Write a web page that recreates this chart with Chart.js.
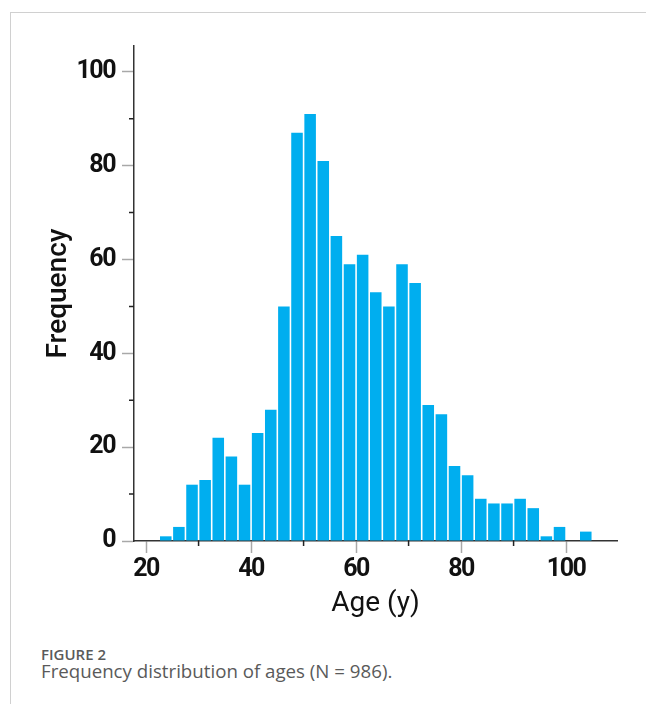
<!DOCTYPE html>
<html>
<head>
<meta charset="utf-8">
<script src="https://cdn.jsdelivr.net/npm/chart.js@4/dist/chart.umd.min.js"></script>
<style>
  html, body { margin: 0; padding: 0; background: #fff; }
  body { width: 646px; height: 704px; position: relative; overflow: hidden; }
  #frame {
    position: absolute; left: 10px; top: 12px; right: 0; bottom: 0;
    border-left: 1px solid #d0d0d0; border-top: 1px solid #d0d0d0;
  }
  #wrap { position: absolute; left: 0; top: 0; width: 646px; height: 630px; }
  .cap { position: absolute; left: 41px; font-family: "Open Sans", "Noto Sans", sans-serif; color: #5a5a5a; white-space: nowrap; }
  #figno { top: 644px; font-size: 15px; font-weight: 600; }
  #figtxt { top: 658px; font-size: 18.7px; font-weight: 400; }
</style>
</head>
<body>
<div id="frame"></div>
<div id="wrap"><canvas id="c" width="646" height="630"></canvas></div>
<div class="cap" id="figno">FIGURE 2</div>
<div class="cap" id="figtxt">Frequency distribution of ages (N = 986).</div>
<script>
// Age histogram, 2.5-year bins (lower edge of each bin)
const binStarts = [22.5, 25, 27.5, 30, 32.5, 35, 37.5, 40, 42.5, 45, 47.5, 50, 52.5, 55, 57.5,
  60, 62.5, 65, 67.5, 70, 72.5, 75, 77.5, 80, 82.5, 85, 87.5, 90, 92.5, 95, 97.5, 100, 102.5];
const frequencies = [1, 3, 12, 13, 22, 18, 12, 23, 28, 50, 87, 91, 81, 65, 59,
  61, 53, 50, 59, 55, 29, 27, 16, 14, 9, 8, 8, 9, 7, 1, 3, 0, 2];
const binWidth = 2.5;

const xTickLabels = [20, 40, 60, 80, 100];
const xMinorTicks = [30, 50, 70, 90];
const yTickLabels = [0, 20, 40, 60, 80, 100];
const yMinorTicks = [10, 30, 50, 70, 90];

const axisFamily = "Roboto, 'Noto Sans', sans-serif";
const tickFont = { family: axisFamily, size: 25, weight: 'bold' };
const yTitleFont = { family: axisFamily, size: 28, weight: '500' };
const xTitleFont = { family: axisFamily, size: 28, weight: 'normal' };

const points = binStarts.map((b, i) => ({ x: b + binWidth / 2, y: frequencies[i] }));

// short black minor ticks between the labelled ones
const minorTickPlugin = {
  id: 'minorTicks',
  afterDraw(chart) {
    const ctx = chart.ctx;
    const xs = chart.scales.x, ys = chart.scales.y;
    ctx.save();
    ctx.strokeStyle = '#222';
    ctx.lineWidth = 1.5;
    ctx.beginPath();
    yMinorTicks.forEach(v => {
      const p = ys.getPixelForValue(v);
      ctx.moveTo(ys.right - 5, p); ctx.lineTo(ys.right, p);
    });
    xMinorTicks.forEach(v => {
      const p = xs.getPixelForValue(v);
      ctx.moveTo(p, xs.top); ctx.lineTo(p, xs.top + 5);
    });
    ctx.stroke();
    ctx.restore();
  }
};

// tighter digit spacing for the tick numbers
const tightLabelsPlugin = {
  id: 'tightLabels',
  beforeDraw(chart) {
    Object.values(chart.scales).forEach(scale => {
      if (scale._tightWrapped) return;
      const orig = scale.drawLabels;
      scale.drawLabels = function (area) {
        const ctx = this.ctx;
        ctx.save();
        ctx.letterSpacing = '-1.5px';
        orig.call(this, area);
        ctx.restore();
      };
      scale._tightWrapped = true;
    });
  }
};

new Chart(document.getElementById('c'), {
  type: 'bar',
  data: {
    datasets: [{
      data: points,
      backgroundColor: '#00aeef',
      borderWidth: 0,
      barPercentage: 1.0,
      categoryPercentage: 0.88
    }]
  },
  options: {
    responsive: false,
    animation: false,
    layout: { padding: { left: 10, top: 46, right: 29, bottom: 0 } },
    plugins: { legend: { display: false }, tooltip: { enabled: false } },
    scales: {
      x: {
        type: 'linear',
        offset: false,
        min: 17.7,
        max: 109.7,
        afterBuildTicks: s => { s.ticks = xTickLabels.map(v => ({ value: v })); },
        afterFit: s => { s.height = 89; },
        grid: { display: true, offset: false, drawOnChartArea: false, drawTicks: true, tickLength: 12, tickColor: '#a8a8a8', tickWidth: 1.5 },
        border: { display: true, color: '#333', width: 1.5 },
        ticks: { color: '#111', font: tickFont, padding: 2, maxRotation: 0 },
        title: { display: true, text: 'Age (y)', color: '#111', font: xTitleFont, padding: { top: 0, bottom: 9 } }
      },
      y: {
        min: 0,
        max: 105.5,
        afterBuildTicks: s => { s.ticks = yTickLabels.map(v => ({ value: v })); },
        afterFit: s => { s.width = 124; },
        grid: { display: true, drawOnChartArea: false, drawTicks: true, tickLength: 12, tickColor: '#a8a8a8', tickWidth: 1.5 },
        border: { display: true, color: '#333', width: 1.5 },
        ticks: { color: '#111', font: tickFont, padding: 7 },
        title: { display: true, text: 'Frequency', color: '#111', font: yTitleFont, padding: { top: 32, bottom: 0 } }
      }
    }
  },
  plugins: [minorTickPlugin, tightLabelsPlugin]
});
</script>
</body>
</html>
